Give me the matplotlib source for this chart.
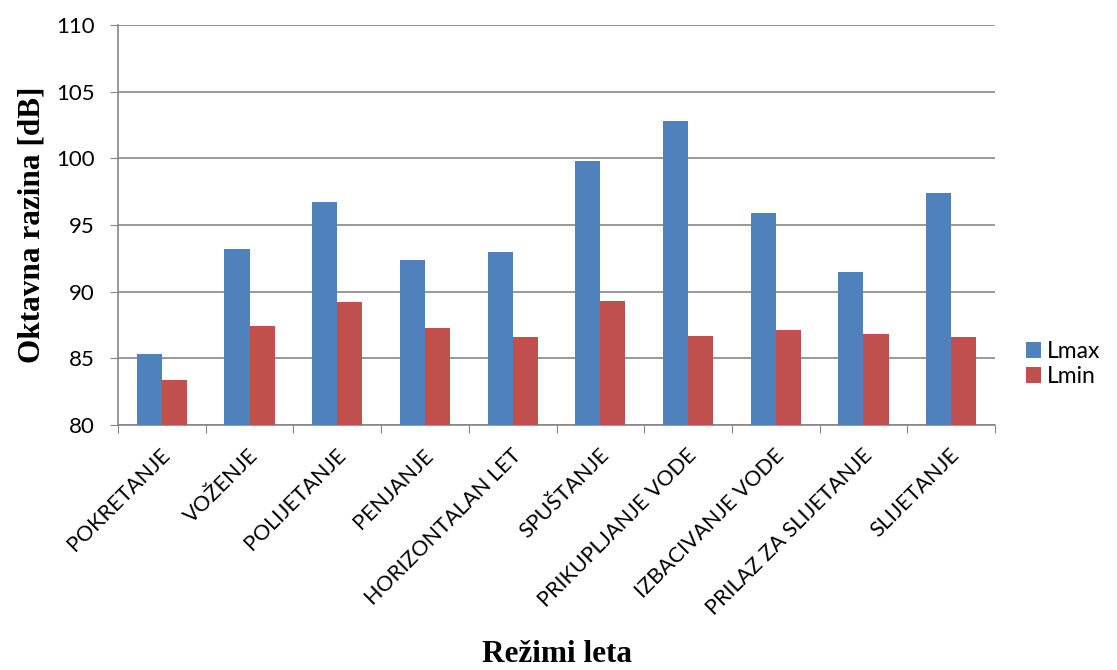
import matplotlib
matplotlib.use("Agg")
import matplotlib.pyplot as plt
import numpy as np

categories = ["POKRETANJE", "VOŽENJE", "POLIJETANJE", "PENJANJE", "HORIZONTALAN LET",
              "SPUŠTANJE", "PRIKUPLJANJE VODE", "IZBACIVANJE VODE", "PRILAZ ZA SLIJETANJE",
              "SLIJETANJE"]
lmax = [85.3, 93.2, 96.7, 92.4, 93.0, 99.8, 102.8, 95.9, 91.5, 97.4]
lmin = [83.4, 87.4, 89.2, 87.3, 86.6, 89.3, 86.7, 87.1, 86.8, 86.6]
series_names = ["Lmax", "Lmin"]
yticks = [80, 85, 90, 95, 100, 105, 110]

fig = plt.figure(figsize=(11.17, 6.70), dpi=100)
ax = fig.add_axes([118/1117, 1-425/670, (995-118)/1117, (425-25)/670])

x = np.arange(len(categories))
w = 0.286
ax.bar(x - w/2, np.array(lmax) - 80, w, bottom=80, color="#4F81BD", label=series_names[0], zorder=3)
ax.bar(x + w/2, np.array(lmin) - 80, w, bottom=80, color="#C0504D", label=series_names[1], zorder=3)

ax.set_xlim(-0.5, len(categories) - 0.5)
ax.set_ylim(80, 110)
ax.set_yticks(yticks)
ax.yaxis.grid(True, color="#868686", linewidth=1.2, zorder=0)
for s in ["top", "right"]:
    ax.spines[s].set_visible(False)
for s in ["left", "bottom"]:
    ax.spines[s].set_color("#868686")
    ax.spines[s].set_linewidth(1.2)
ax.tick_params(axis="y", length=6, color="#868686", labelsize=16, pad=11)
ax.set_yticklabels([str(v) for v in yticks], family="Lato")

ax.set_xticks(np.arange(len(categories) + 1) - 0.5, minor=False)
ax.set_xticklabels([])
ax.tick_params(axis="x", length=6, color="#868686")
for i, c in enumerate(categories):
    ax.text(i - 0.02, 78.5, c, rotation=45, ha="right", va="top", rotation_mode="anchor",
            fontsize=15.5, family="Lato")

ax.set_ylabel("Oktavna razina [dB]", family="Liberation Serif", fontweight="bold", fontsize=22.5)
ax.yaxis.set_label_coords(-0.082, 0.5)
fig.text(557/1117, 1-655/670, "Režimi leta", family="Liberation Serif", fontweight="bold",
         fontsize=22.5, ha="center", va="center")

leg = ax.legend(loc="center left", bbox_to_anchor=(1.035, 0.1525), frameon=False,
                prop={"family": "Lato", "size": 16.5}, handlelength=0.68, handleheight=0.68,
                handletextpad=0.25, labelspacing=0.2, borderpad=0, borderaxespad=0)

fig.savefig("out.png", dpi=100)
